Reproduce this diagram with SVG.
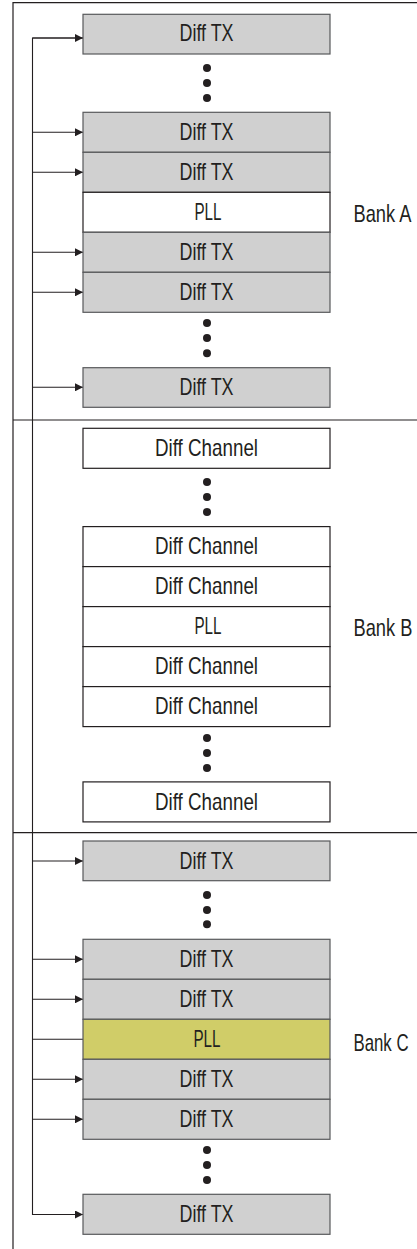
<svg xmlns="http://www.w3.org/2000/svg" width="417" height="1249" viewBox="0 0 417 1249">
<defs>
<marker id="arr" viewBox="0 0 8 8" refX="8" refY="4" markerWidth="8" markerHeight="8" markerUnits="userSpaceOnUse" orient="auto">
<path d="M0,0 L8,4 L0,8 Z" fill="#231f20"/>
</marker>
<style>
.tx{fill:#d0d0d0;stroke:#58595b;stroke-width:1.2}
.ch{fill:#ffffff;stroke:#231f20;stroke-width:1.2}
.pll{fill:#ffffff;stroke:#231f20;stroke-width:1.2}
.pllc{fill:#d0cd68;stroke:#58595b;stroke-width:1.2}
.lbl{font-family:"Liberation Sans",Arial,sans-serif;font-size:24px;fill:#231f20;text-anchor:middle}
.bank{font-family:"Liberation Sans",Arial,sans-serif;font-size:24px;fill:#231f20;text-anchor:start}
.frame{stroke:#231f20;stroke-width:1.2;fill:none}
.wire{stroke:#231f20;stroke-width:1.1;fill:none}
.dot{fill:#231f20}
</style>
</defs>

<g id="frame">
<path class="frame" d="M13,1249 V2.7 H417"/>
<line class="frame" x1="13" y1="420" x2="417" y2="420"/>
<line class="frame" x1="13" y1="832.7" x2="417" y2="832.7"/>
</g>

<g id="connectors">
<path class="wire" d="M83,38 H32.5 V1214.5 H83"/>
<line class="wire" x1="32.5" y1="38" x2="83" y2="38" marker-end="url(#arr)"/>
<line class="wire" x1="32.5" y1="132.3" x2="83" y2="132.3" marker-end="url(#arr)"/>
<line class="wire" x1="32.5" y1="172.3" x2="83" y2="172.3" marker-end="url(#arr)"/>
<line class="wire" x1="32.5" y1="252.3" x2="83" y2="252.3" marker-end="url(#arr)"/>
<line class="wire" x1="32.5" y1="292.3" x2="83" y2="292.3" marker-end="url(#arr)"/>
<line class="wire" x1="32.5" y1="387.3" x2="83" y2="387.3" marker-end="url(#arr)"/>
<line class="wire" x1="32.5" y1="861" x2="83" y2="861" marker-end="url(#arr)"/>
<line class="wire" x1="32.5" y1="959.3" x2="83" y2="959.3" marker-end="url(#arr)"/>
<line class="wire" x1="32.5" y1="999.3" x2="83" y2="999.3" marker-end="url(#arr)"/>
<line class="wire" x1="32.5" y1="1039.3" x2="83" y2="1039.3"/>
<line class="wire" x1="32.5" y1="1079.3" x2="83" y2="1079.3" marker-end="url(#arr)"/>
<line class="wire" x1="32.5" y1="1119.3" x2="83" y2="1119.3" marker-end="url(#arr)"/>
<line class="wire" x1="32.5" y1="1214.5" x2="83" y2="1214.5" marker-end="url(#arr)"/>
</g>

<!-- Bank A -->
<g id="a_tx1"><rect class="tx" x="83" y="14.3" width="247" height="39.7"/><text class="lbl" x="206.5" y="41.3" textLength="54" lengthAdjust="spacingAndGlyphs">Diff TX</text></g>
<g id="a_dots1"><circle class="dot" cx="207" cy="68" r="4"/><circle class="dot" cx="207" cy="83" r="4"/><circle class="dot" cx="207" cy="98" r="4"/></g>
<g id="a_tx2"><rect class="tx" x="83" y="112.3" width="247" height="40"/><text class="lbl" x="206.5" y="140" textLength="54" lengthAdjust="spacingAndGlyphs">Diff TX</text></g>
<g id="a_tx3"><rect class="tx" x="83" y="152.3" width="247" height="40"/><text class="lbl" x="206.5" y="180" textLength="54" lengthAdjust="spacingAndGlyphs">Diff TX</text></g>
<g id="a_pll"><rect class="pll" x="83" y="192.3" width="247" height="40"/><text class="lbl" x="208" y="220" textLength="27" lengthAdjust="spacingAndGlyphs">PLL</text></g>
<g id="a_tx4"><rect class="tx" x="83" y="232.3" width="247" height="40"/><text class="lbl" x="206.5" y="260" textLength="54" lengthAdjust="spacingAndGlyphs">Diff TX</text></g>
<g id="a_tx5"><rect class="tx" x="83" y="272.3" width="247" height="40"/><text class="lbl" x="206.5" y="300" textLength="54" lengthAdjust="spacingAndGlyphs">Diff TX</text></g>
<g id="a_dots2"><circle class="dot" cx="207" cy="323" r="4"/><circle class="dot" cx="207" cy="338" r="4"/><circle class="dot" cx="207" cy="353.3" r="4"/></g>
<g id="a_tx6"><rect class="tx" x="83" y="367.7" width="247" height="39.6"/><text class="lbl" x="206.5" y="395" textLength="54" lengthAdjust="spacingAndGlyphs">Diff TX</text></g>
<g id="bankA"><text class="bank" transform="translate(353.5 221.5) scale(0.762 1)" x="0" y="0">Bank A</text></g>

<!-- Bank B -->
<g id="b_ch1"><rect class="ch" x="83" y="428.3" width="247" height="40"/><text class="lbl" x="206.5" y="456" textLength="103" lengthAdjust="spacingAndGlyphs">Diff Channel</text></g>
<g id="b_dots1"><circle class="dot" cx="207" cy="482" r="4"/><circle class="dot" cx="207" cy="497" r="4"/><circle class="dot" cx="207" cy="512" r="4"/></g>
<g id="b_ch2"><rect class="ch" x="83" y="526.6" width="247" height="40"/><text class="lbl" x="206.5" y="554.3" textLength="103" lengthAdjust="spacingAndGlyphs">Diff Channel</text></g>
<g id="b_ch3"><rect class="ch" x="83" y="566.6" width="247" height="40"/><text class="lbl" x="206.5" y="594.3" textLength="103" lengthAdjust="spacingAndGlyphs">Diff Channel</text></g>
<g id="b_pll"><rect class="pll" x="83" y="606.6" width="247" height="40"/><text class="lbl" x="208" y="634.3" textLength="27" lengthAdjust="spacingAndGlyphs">PLL</text></g>
<g id="b_ch4"><rect class="ch" x="83" y="646.6" width="247" height="40"/><text class="lbl" x="206.5" y="674.3" textLength="103" lengthAdjust="spacingAndGlyphs">Diff Channel</text></g>
<g id="b_ch5"><rect class="ch" x="83" y="686.6" width="247" height="40"/><text class="lbl" x="206.5" y="714.3" textLength="103" lengthAdjust="spacingAndGlyphs">Diff Channel</text></g>
<g id="b_dots2"><circle class="dot" cx="207" cy="738" r="4"/><circle class="dot" cx="207" cy="753" r="4"/><circle class="dot" cx="207" cy="768" r="4"/></g>
<g id="b_ch6"><rect class="ch" x="83" y="781.9" width="247" height="40"/><text class="lbl" x="206.5" y="809.6" textLength="103" lengthAdjust="spacingAndGlyphs">Diff Channel</text></g>
<g id="bankB"><text class="bank" transform="translate(353.5 635.5) scale(0.762 1)" x="0" y="0">Bank B</text></g>

<!-- Bank C -->
<g id="c_tx1"><rect class="tx" x="83" y="841" width="247" height="39.7"/><text class="lbl" x="206.5" y="868.5" textLength="54" lengthAdjust="spacingAndGlyphs">Diff TX</text></g>
<g id="c_dots1"><circle class="dot" cx="207" cy="895" r="4"/><circle class="dot" cx="207" cy="910" r="4"/><circle class="dot" cx="207" cy="924.3" r="4"/></g>
<g id="c_tx2"><rect class="tx" x="83" y="939.3" width="247" height="40"/><text class="lbl" x="206.5" y="967" textLength="54" lengthAdjust="spacingAndGlyphs">Diff TX</text></g>
<g id="c_tx3"><rect class="tx" x="83" y="979.3" width="247" height="40"/><text class="lbl" x="206.5" y="1007" textLength="54" lengthAdjust="spacingAndGlyphs">Diff TX</text></g>
<g id="c_pll"><rect class="pllc" x="83" y="1019.3" width="247" height="40"/><text class="lbl" x="207" y="1047" textLength="27" lengthAdjust="spacingAndGlyphs">PLL</text></g>
<g id="c_tx4"><rect class="tx" x="83" y="1059.3" width="247" height="40"/><text class="lbl" x="206.5" y="1087" textLength="54" lengthAdjust="spacingAndGlyphs">Diff TX</text></g>
<g id="c_tx5"><rect class="tx" x="83" y="1099.3" width="247" height="40"/><text class="lbl" x="206.5" y="1127" textLength="54" lengthAdjust="spacingAndGlyphs">Diff TX</text></g>
<g id="c_dots2"><circle class="dot" cx="207" cy="1150" r="4"/><circle class="dot" cx="207" cy="1165" r="4"/><circle class="dot" cx="207" cy="1180" r="4"/></g>
<g id="c_tx6"><rect class="tx" x="83" y="1194.3" width="247" height="40"/><text class="lbl" x="206.5" y="1222" textLength="54" lengthAdjust="spacingAndGlyphs">Diff TX</text></g>
<g id="bankC"><text class="bank" transform="translate(353.5 1050.5) scale(0.70 1)" x="0" y="0">Bank C</text></g>
</svg>
